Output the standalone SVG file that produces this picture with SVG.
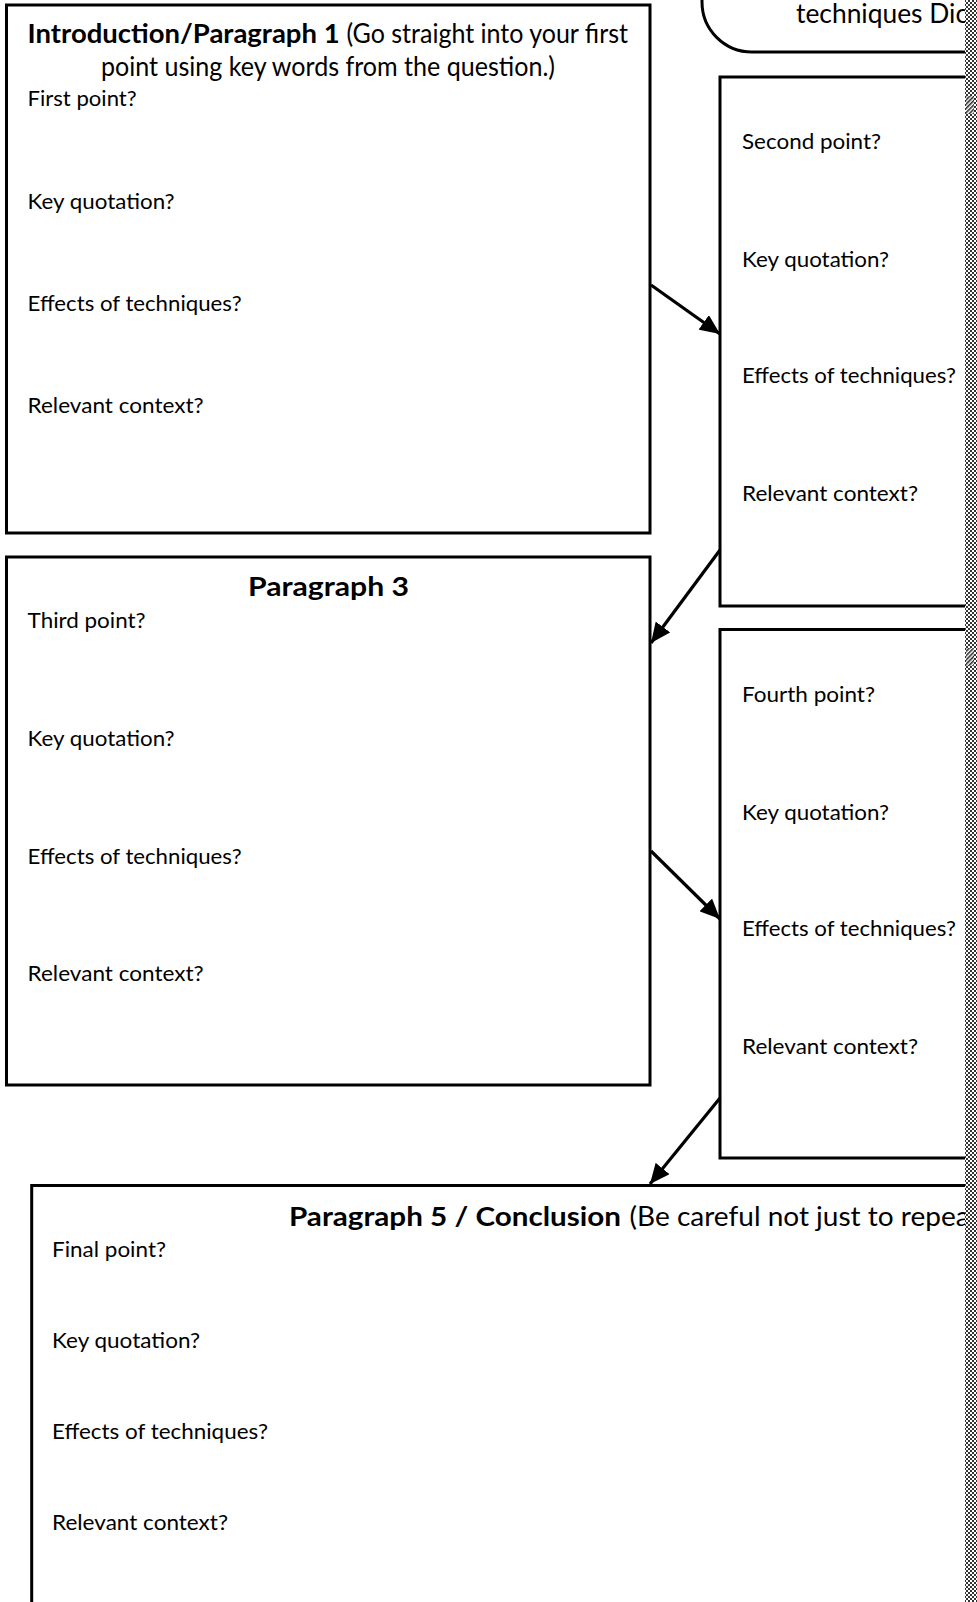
<svg xmlns="http://www.w3.org/2000/svg" width="977" height="1602" viewBox="0 0 977 1602">
<style>
.box{fill:#fff;stroke:#000;stroke-width:3}
.t{font-family:Lato,"Open Sans","Liberation Sans",sans-serif;font-size:22px;fill:#000}
.h{font-family:Lato,"Open Sans","Liberation Sans",sans-serif;font-size:26px;fill:#000}
.b{font-weight:bold}
.c{stroke:#000;stroke-width:3.2;fill:none;marker-end:url(#ah)}
</style>
<defs>
<marker id="ah" markerUnits="userSpaceOnUse" markerWidth="22" markerHeight="18" refX="20" refY="9" orient="auto" viewBox="0 0 22 18">
<path d="M0,0 L20,9 L0,18 Z" fill="#000"/>
</marker>
<pattern id="dots" patternUnits="userSpaceOnUse" width="4" height="4">
<rect width="4" height="4" fill="#fff"/>
<rect x="0" y="0" width="2" height="2" fill="#333"/>
<rect x="2" y="2" width="2" height="2" fill="#333"/>
</pattern>
<pattern id="hatch" patternUnits="userSpaceOnUse" width="3" height="3" patternTransform="rotate(45)">
<rect width="3" height="3" fill="#fff"/>
<rect width="1.5" height="3" fill="#222"/>
</pattern>
</defs>
<rect width="977" height="1602" fill="#fff"/>

<g id="top-box">
<path d="M702,-4 L702,2 A50,50 0 0 0 752,52 L990,52" fill="#fff" stroke="#000" stroke-width="3"/>
<text class="h" x="796" y="23" textLength="172" lengthAdjust="spacingAndGlyphs" font-size="24">techniques Dic</text>
</g>

<g id="paragraph1">
<rect class="box" x="6.5" y="5" width="643.5" height="528"/>
<text class="h" x="27.6" y="43"><tspan class="b" textLength="312" lengthAdjust="spacingAndGlyphs">Introduction/Paragraph 1</tspan><tspan x="340" textLength="288" lengthAdjust="spacingAndGlyphs"> (Go straight into your first</tspan></text>
<text class="h" x="101" y="76" textLength="454" lengthAdjust="spacingAndGlyphs">point using key words from the question.)</text>
<text class="t" x="27.6" y="106" textLength="109" lengthAdjust="spacingAndGlyphs">First point?</text>
<text class="t" x="27.6" y="209" textLength="147" lengthAdjust="spacingAndGlyphs">Key quotation?</text>
<text class="t" x="27.6" y="311" textLength="214" lengthAdjust="spacingAndGlyphs">Effects of techniques?</text>
<text class="t" x="27.6" y="413" textLength="176" lengthAdjust="spacingAndGlyphs">Relevant context?</text>
</g>

<g id="paragraph2">
<rect class="box" x="720" y="77" width="270" height="529"/>
<text class="t" x="742" y="149" textLength="139" lengthAdjust="spacingAndGlyphs">Second point?</text>
<text class="t" x="742" y="267" textLength="147" lengthAdjust="spacingAndGlyphs">Key quotation?</text>
<text class="t" x="742" y="383" textLength="214" lengthAdjust="spacingAndGlyphs">Effects of techniques?</text>
<text class="t" x="742" y="501" textLength="176" lengthAdjust="spacingAndGlyphs">Relevant context?</text>
</g>

<g id="paragraph3">
<rect class="box" x="6.5" y="557" width="643.5" height="528"/>
<text class="h b" x="248" y="596" textLength="161" lengthAdjust="spacingAndGlyphs">Paragraph 3</text>
<text class="t" x="27.6" y="628" textLength="118" lengthAdjust="spacingAndGlyphs">Third point?</text>
<text class="t" x="27.6" y="746" textLength="147" lengthAdjust="spacingAndGlyphs">Key quotation?</text>
<text class="t" x="27.6" y="864" textLength="214" lengthAdjust="spacingAndGlyphs">Effects of techniques?</text>
<text class="t" x="27.6" y="981" textLength="176" lengthAdjust="spacingAndGlyphs">Relevant context?</text>
</g>

<g id="paragraph4">
<rect class="box" x="720" y="629.5" width="270" height="528.5"/>
<text class="t" x="742" y="702" textLength="133" lengthAdjust="spacingAndGlyphs">Fourth point?</text>
<text class="t" x="742" y="820" textLength="147" lengthAdjust="spacingAndGlyphs">Key quotation?</text>
<text class="t" x="742" y="936" textLength="214" lengthAdjust="spacingAndGlyphs">Effects of techniques?</text>
<text class="t" x="742" y="1054" textLength="176" lengthAdjust="spacingAndGlyphs">Relevant context?</text>
</g>

<g id="paragraph5">
<rect class="box" x="31.7" y="1185.5" width="960" height="500"/>
<text class="h" x="289" y="1226"><tspan class="b" textLength="332" lengthAdjust="spacingAndGlyphs">Paragraph 5 / Conclusion</tspan><tspan x="629.6" textLength="340" lengthAdjust="spacingAndGlyphs">(Be careful not just to repea</tspan></text>
<text class="t" x="52" y="1257" textLength="114" lengthAdjust="spacingAndGlyphs">Final point?</text>
<text class="t" x="52" y="1348" textLength="148" lengthAdjust="spacingAndGlyphs">Key quotation?</text>
<text class="t" x="52" y="1439" textLength="216" lengthAdjust="spacingAndGlyphs">Effects of techniques?</text>
<text class="t" x="52" y="1530" textLength="176" lengthAdjust="spacingAndGlyphs">Relevant context?</text>
</g>

<g id="connectors">
<line class="c" x1="651" y1="285" x2="720" y2="334"/>
<line class="c" x1="720" y1="550" x2="651" y2="643"/>
<line class="c" x1="651" y1="851" x2="720" y2="919"/>
<line class="c" x1="720" y1="1098" x2="650" y2="1184"/>
</g>

<g id="edge-strip">
<rect x="965" y="0" width="12" height="1602" fill="url(#dots)"/>
<rect x="966" y="96" width="8" height="18" fill="url(#hatch)"/>
<rect x="966" y="648" width="8" height="18" fill="url(#hatch)"/>
</g>
</svg>
